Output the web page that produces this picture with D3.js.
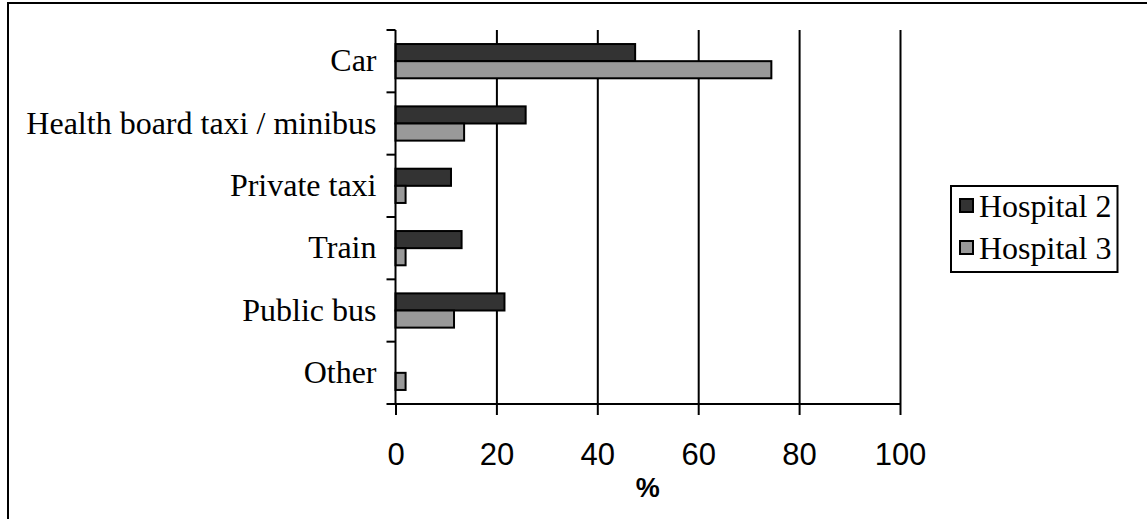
<!DOCTYPE html>
<html><head><meta charset="utf-8">
<script src="https://cdn.jsdelivr.net/npm/d3@7"></script>
<style>
html,body{margin:0;padding:0;background:#fff;}
svg{display:block;}
</style></head>
<body>
<svg id="chart" width="1147" height="519"></svg>
<script>
const categories = ["Car","Health board taxi / minibus","Private taxi","Train","Public bus","Other"];
const seriesNames = ["Hospital 2","Hospital 3"];
const hospital2 = [47.5, 25.8, 11.0, 13.1, 21.6, 0];
const hospital3 = [74.5, 13.6, 2.0, 2.0, 11.6, 2.0];
const xTicks = [0, 20, 40, 60, 80, 100];
const xTitle = "%";
const colors = ["#333333", "#999999"];

(function () {
const svg = d3.select("#chart");

// outer frame
svg.append("rect").attr("x", 8).attr("y", 3).attr("width", 1200).attr("height", 600)
  .attr("fill", "none").attr("stroke", "#000").attr("stroke-width", 2);

const pLeft = 395.5, pRight = 900, pTop = 30, pBottom = 404;
const x = d3.scaleLinear().domain([0, 100]).range([pLeft, pRight]);
const y = d3.scaleBand().domain(categories).range([pTop, pBottom]).paddingInner(0).paddingOuter(0);
const ys = d3.scaleBand().domain(seriesNames).range([0, y.bandwidth()]).paddingInner(0).paddingOuter(0.82);

// gridlines
svg.append("g").attr("transform", `translate(0,${pBottom})`)
  .call(d3.axisBottom(x).tickValues(xTicks.slice(1)).tickSize(-(pBottom - pTop)).tickFormat(""))
  .call(g => g.select(".domain").remove())
  .call(g => g.selectAll("line").attr("stroke", "#000").attr("stroke-width", 2));

// bars
const data = [];
categories.forEach((c, i) => {
  data.push({cat: c, s: seriesNames[0], v: hospital2[i], col: colors[0]});
  data.push({cat: c, s: seriesNames[1], v: hospital3[i], col: colors[1]});
});
svg.append("g").selectAll("rect").data(data.filter(d => d.v > 0)).join("rect")
  .attr("x", x(0))
  .attr("y", d => y(d.cat) + ys(d.s))
  .attr("width", d => x(d.v) - x(0))
  .attr("height", ys.bandwidth())
  .attr("fill", d => d.col)
  .attr("stroke", "#000").attr("stroke-width", 2);

// x axis
const xa = svg.append("g").attr("transform", `translate(0,${pBottom})`)
  .call(d3.axisBottom(x).tickValues(xTicks).tickSize(11).tickFormat(d3.format("d")));
xa.select(".domain").attr("stroke", "#000").attr("stroke-width", 2).attr("d", `M${pLeft},0H${pRight}`);
xa.selectAll("line").attr("stroke", "#000").attr("stroke-width", 2);
xa.selectAll("text").attr("y", 61).attr("dy", null)
  .attr("font-family", "'Liberation Sans', Arial, sans-serif").attr("font-size", 31).attr("fill", "#000");

// x title
svg.append("text").attr("x", (pLeft + pRight) / 2).attr("y", 497).attr("text-anchor", "middle")
  .attr("font-family", "'Liberation Sans', Arial, sans-serif").attr("font-weight", "bold")
  .attr("font-size", 27).text(xTitle);

// y axis
const ya = svg.append("g").attr("transform", `translate(${pLeft},0)`)
  .call(d3.axisLeft(y).tickSize(0).tickPadding(20));
ya.select(".domain").attr("stroke", "#000").attr("stroke-width", 2).attr("d", `M0,${pTop}V${pBottom}`);
ya.selectAll("text").attr("dy", null).attr("y", 10).attr("x", -19)
  .attr("font-family", "'Liberation Serif', 'Times New Roman', serif").attr("font-size", 32).attr("fill", "#000");
const bounds = categories.map(c => y(c)).concat([pBottom]);
ya.selectAll(".bound").data(bounds).join("line").attr("class", "bound")
  .attr("x1", -9).attr("x2", 0).attr("y1", d => d).attr("y2", d => d)
  .attr("stroke", "#000").attr("stroke-width", 2);

// legend
const lg = svg.append("g");
lg.append("rect").attr("x", 951).attr("y", 186).attr("width", 166.5).attr("height", 86)
  .attr("fill", "#fff").attr("stroke", "#000").attr("stroke-width", 2);
seriesNames.forEach((s, i) => {
  const cy = 206 + i * 42;
  lg.append("rect").attr("x", 960).attr("y", cy - 7).attr("width", 13).attr("height", 13)
    .attr("fill", colors[i]).attr("stroke", "#000").attr("stroke-width", 2);
  lg.append("text").attr("x", 979).attr("y", cy + 11)
    .attr("font-family", "'Liberation Serif', 'Times New Roman', serif").attr("font-size", 32)
    .text(s);
});
})();
</script>
</body></html>
